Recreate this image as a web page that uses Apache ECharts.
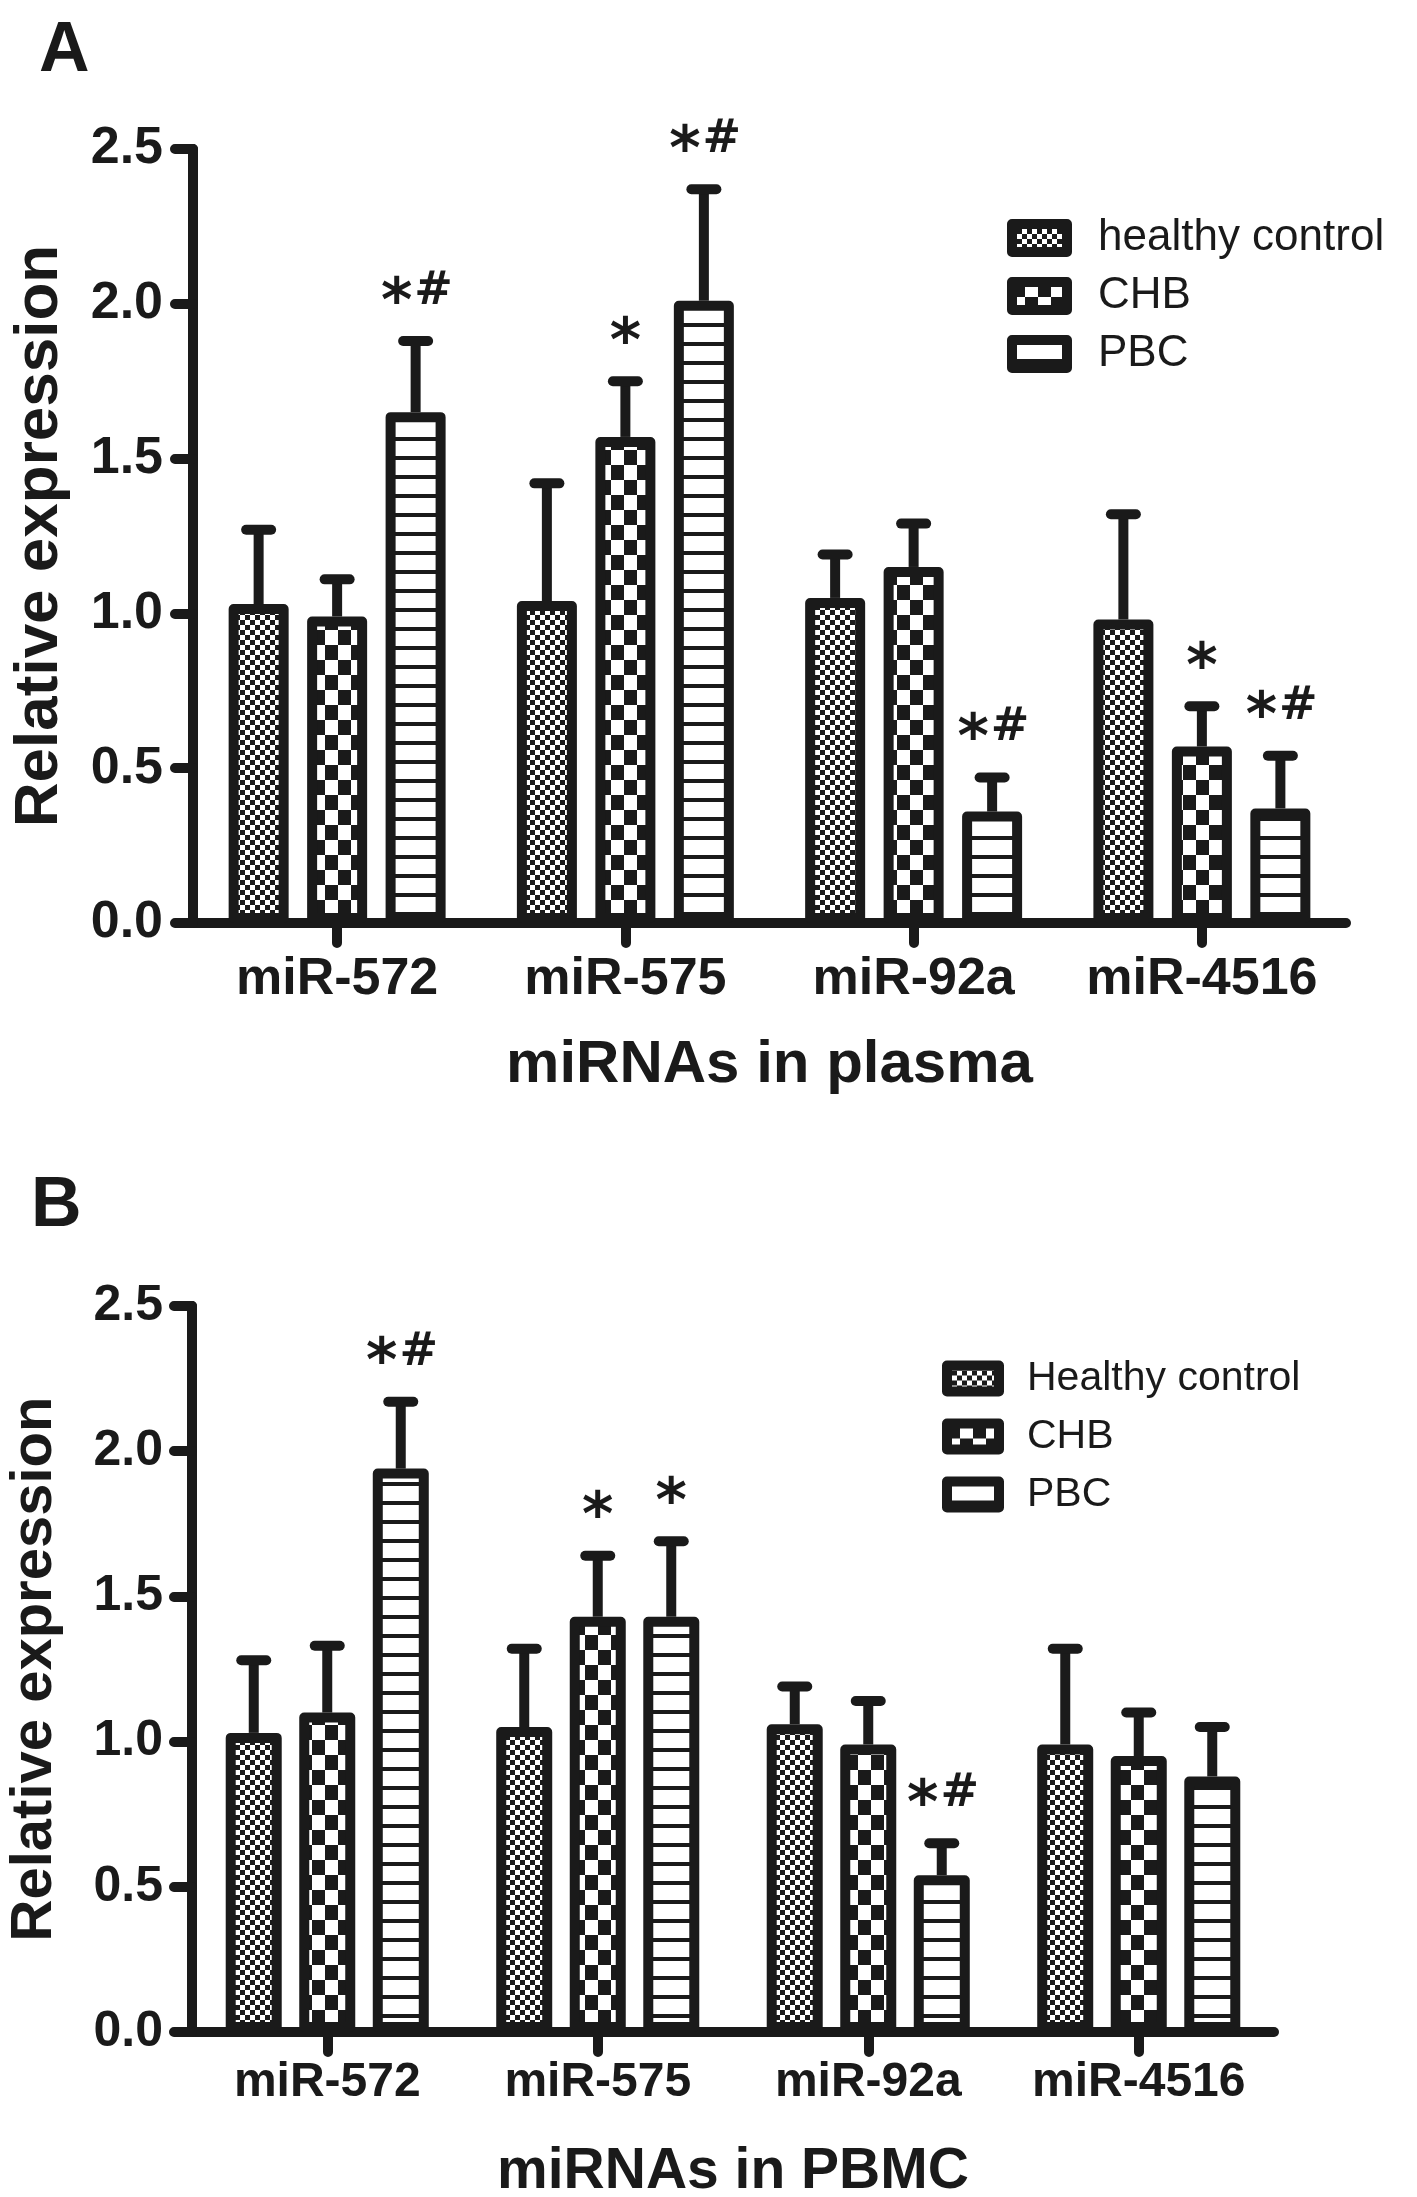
<!DOCTYPE html>
<html>
<head>
<meta charset="utf-8">
<script src="https://cdn.jsdelivr.net/npm/echarts@6/dist/echarts.min.js"></script>
<style>
html,body{margin:0;padding:0;background:#fff;}
#chart{width:1417px;height:2197px;}
</style>
</head>
<body>
<div id="chart"></div>
<script>
// ---------------- data ----------------
const categories = ['miR-572', 'miR-575', 'miR-92a', 'miR-4516'];
const groupsPlasma = ['healthy control', 'CHB', 'PBC'];
const groupsPBMC = ['Healthy control', 'CHB', 'PBC'];
const yMin = 0, yMax = 2.5, yStep = 0.5;

const plasmaHC = [1.03, 1.04, 1.05, 0.98];
const plasmaHCsem = [0.24, 0.38, 0.14, 0.34];
const plasmaCHB = [0.99, 1.57, 1.15, 0.57];
const plasmaCHBsem = [0.12, 0.18, 0.14, 0.13];
const plasmaPBC = [1.65, 2.01, 0.36, 0.37];
const plasmaPBCsem = [0.23, 0.36, 0.11, 0.17];

const pbmcHC = [1.03, 1.05, 1.06, 0.99];
const pbmcHCsem = [0.25, 0.27, 0.13, 0.33];
const pbmcCHB = [1.10, 1.43, 0.99, 0.95];
const pbmcCHBsem = [0.23, 0.21, 0.15, 0.15];
const pbmcPBC = [1.94, 1.43, 0.54, 0.88];
const pbmcPBCsem = [0.23, 0.26, 0.11, 0.17];

const plasmaHCmark = ['', '', '', ''];
const plasmaCHBmark = ['', '*', '', '*'];
const plasmaPBCmark = ['*#', '*#', '*#', '*#'];
const pbmcHCmark = ['', '', '', ''];
const pbmcCHBmark = ['', '*', '', ''];
const pbmcPBCmark = ['*#', '*', '*#', ''];

// ---------------- styles ----------------
const INK = '#1a1a1a';
const FONT = "'Liberation Sans', Arial, Helvetica, sans-serif";
const MARKFONT = "'DejaVu Sans', 'Liberation Sans', sans-serif";

function makePattern(kind) {
  const c = document.createElement('canvas');
  let w, h;
  if (kind === 'fine') { w = 10; h = 10; } else if (kind === 'coarse') { w = 26; h = 30; } else { w = 16; h = 19; }
  c.width = w; c.height = h;
  const g = c.getContext('2d');
  g.fillStyle = '#ffffff'; g.fillRect(0, 0, w, h);
  g.fillStyle = INK;
  if (kind === 'fine' || kind === 'coarse') {
    g.fillRect(0, 0, w / 2, h / 2);
    g.fillRect(w / 2, h / 2, w / 2, h / 2);
  } else {
    g.fillRect(0, 0, w, 4);
  }
  return { image: c, repeat: 'repeat' };
}
const patterns = [makePattern('fine'), makePattern('coarse'), makePattern('lines')];

const panels = [
  {
    names: groupsPlasma,
    means: [plasmaHC, plasmaCHB, plasmaPBC],
    sems: [plasmaHCsem, plasmaCHBsem, plasmaPBCsem],
    marks: [plasmaHCmark, plasmaCHBmark, plasmaPBCmark],
    barW: 60, gapPx: 18.5
  },
  {
    names: groupsPBMC,
    means: [pbmcHC, pbmcCHB, pbmcPBC],
    sems: [pbmcHCsem, pbmcCHBsem, pbmcPBCsem],
    marks: [pbmcHCmark, pbmcCHBmark, pbmcPBCmark],
    barW: 56, gapPx: 17.5
  }
];

function markElements(mark, x, yc) {
  const els = [];
  if (!mark) return els;
  const both = mark.length > 1;
  if (mark.indexOf('*') >= 0) {
    els.push({ type: 'text', style: { text: '*', x: both ? x - 19 : x, y: yc + 13,
      align: 'center', verticalAlign: 'middle', font: 'bold 60px ' + MARKFONT, fill: INK } });
  }
  if (mark.indexOf('#') >= 0) {
    els.push({ type: 'text', style: { text: '#', x: both ? x + 18 : x, y: yc,
      align: 'center', verticalAlign: 'middle', font: 'bold 46px ' + MARKFONT, fill: INK } });
  }
  return els;
}

const series = [];
panels.forEach(function (p, pi) {
  p.names.forEach(function (name, gi) {
    series.push({
      type: 'bar',
      name: name,
      xAxisIndex: pi,
      yAxisIndex: pi,
      data: p.means[gi],
      barWidth: p.barW,
      barGap: (p.gapPx / p.barW * 100).toFixed(1) + '%',
      itemStyle: {
        color: patterns[gi],
        borderColor: INK,
        borderWidth: 10,
        borderJoin: 'round'
      },
      emphasis: { disabled: true },
      z: 3
    });
  });
  p.names.forEach(function (name, gi) {
    const offset = (gi - 1) * (p.barW + p.gapPx);
    const marks = p.marks[gi];
    series.push({
      type: 'custom',
      name: name + ' SEM',
      xAxisIndex: pi,
      yAxisIndex: pi,
      data: p.means[gi].map(function (m, i) { return [i, m, p.sems[gi][i]]; }),
      z: 2,
      silent: true,
      renderItem: function (params, api) {
        const i = api.value(0), m = api.value(1), s = api.value(2);
        const base = api.coord([i, m]);
        const top = api.coord([i, m + s]);
        const x = base[0] + offset;
        const children = [
          { type: 'line', shape: { x1: x, y1: base[1], x2: x, y2: top[1] },
            style: { stroke: INK, lineWidth: 10 } },
          { type: 'line', shape: { x1: x - 12.5, y1: top[1], x2: x + 12.5, y2: top[1] },
            style: { stroke: INK, lineWidth: 10, lineCap: 'round' } }
        ].concat(markElements(marks[params.dataIndex], x, top[1] - 49));
        return { type: 'group', children: children };
      }
    });
  });
});

function xAxisCfg(gi, fsLabel, fsName, nameText, nameGap, margin) {
  return {
    type: 'category',
    gridIndex: gi,
    data: categories,
    name: nameText,
    nameLocation: 'middle',
    nameGap: nameGap,
    nameTextStyle: { fontFamily: FONT, fontWeight: 'bold', fontSize: fsName, color: INK },
    axisLine: { show: true, lineStyle: { color: INK, width: 10, cap: 'round' } },
    axisTick: { show: true, interval: 0, alignWithLabel: true, length: 20,
      lineStyle: { color: INK, width: 10, cap: 'round' } },
    axisLabel: { interval: 0, fontFamily: FONT, fontWeight: 'bold', fontSize: fsLabel, color: INK, margin: margin },
    splitLine: { show: false }
  };
}
function yAxisCfg(gi, fsLabel, fsName, nameGap, margin) {
  return {
    type: 'value',
    gridIndex: gi,
    min: yMin, max: yMax, interval: yStep,
    name: 'Relative expression',
    nameLocation: 'middle',
    nameRotate: 90,
    nameGap: nameGap,
    nameTextStyle: { fontFamily: FONT, fontWeight: 'bold', fontSize: fsName, color: INK },
    axisLine: { show: true, lineStyle: { color: INK, width: 10, cap: 'round' } },
    axisTick: { show: true, length: 18, lineStyle: { color: INK, width: 10, cap: 'round' } },
    axisLabel: { fontFamily: FONT, fontWeight: 'bold', fontSize: fsLabel, color: INK, margin: margin,
      formatter: function (v) { return v.toFixed(1); } },
    splitLine: { show: false }
  };
}

const option = {
  backgroundColor: '#ffffff',
  animation: false,
  grid: [
    { left: 193, top: 149, width: 1153, height: 774, outerBoundsMode: 'none', containLabel: false },
    { left: 192, top: 1306, width: 1082, height: 726, outerBoundsMode: 'none', containLabel: false }
  ],
  xAxis: [
    xAxisCfg(0, 52, 60, 'miRNAs in plasma', 112, 31),
    xAxisCfg(1, 48, 57, 'miRNAs in PBMC', 112, 27)
  ],
  yAxis: [
    yAxisCfg(0, 52, 62, 122, 30),
    yAxisCfg(1, 50, 58, 128, 29)
  ],
  legend: [
    {
      data: groupsPlasma,
      orient: 'vertical',
      left: 1007, top: 216,
      padding: 0,
      itemWidth: 55, itemHeight: 28, itemGap: 14,
      icon: 'rect',
      selectedMode: false,
      itemStyle: { borderWidth: 10, borderColor: INK, borderJoin: 'round' },
      textStyle: { fontFamily: FONT, fontSize: 44, color: INK, padding: [0, 0, 0, 26] }
    },
    {
      data: groupsPBMC,
      orient: 'vertical',
      left: 942, top: 1358,
      padding: 0,
      itemWidth: 52, itemHeight: 26, itemGap: 17,
      icon: 'rect',
      selectedMode: false,
      itemStyle: { borderWidth: 10, borderColor: INK, borderJoin: 'round' },
      textStyle: { fontFamily: FONT, fontSize: 41, color: INK, padding: [0, 0, 0, 23] }
    }
  ],
  graphic: [
    { type: 'text', left: 39, top: 17, style: { text: 'A', font: 'bold 70px ' + FONT, fill: INK } },
    { type: 'text', left: 31, top: 1172, style: { text: 'B', font: 'bold 70px ' + FONT, fill: INK } }
  ],
  series: series
};

const chart = echarts.init(document.getElementById('chart'), null, { renderer: 'canvas' });
chart.setOption(option);
</script>
</body>
</html>
